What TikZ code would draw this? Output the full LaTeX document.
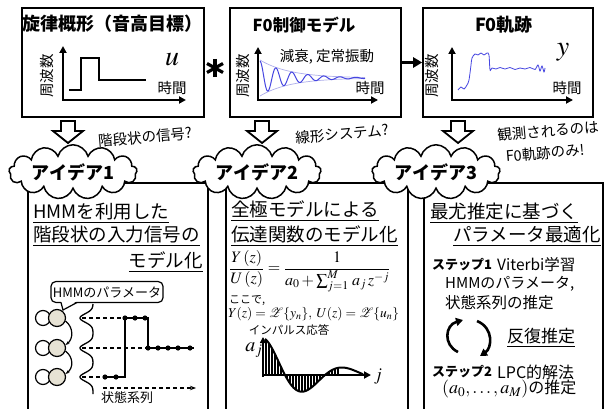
\documentclass[tikz,border=0pt]{standalone}
\usepackage{amsmath}
\usepackage{mathptmx}
\usepackage{fontspec}
\setmainfont{Noto Sans CJK JP}
\usetikzlibrary{shapes.symbols,arrows.meta}
\definecolor{wave}{RGB}{70,70,225}
\definecolor{env}{RGB}{175,175,235}
\definecolor{statefill}{RGB}{230,226,212}
\tikzset{
 box/.style={draw, line width=1.6pt, fill=white, inner sep=0pt},
 ax/.style={line width=1.8pt, -{Triangle[length=7pt,width=7pt]}},
 axlab/.style={font=\fontsize{14.5}{16}\selectfont, inner sep=0pt},
 big/.style={font=\fontsize{18.5}{20}\selectfont, anchor=west, inner sep=0pt},
 txt/.style={anchor=west, inner sep=0pt},
 note/.style={font=\fontsize{14.5}{16}\selectfont, inner sep=0pt, rotate=5},
 idea/.style={cloud, draw, fill=white, line width=1.5pt, cloud puffs=13, aspect=3.4,
   minimum width=128pt, minimum height=38pt, inner sep=0pt,
   font=\fontsize{18}{20}\selectfont\bfseries},
 dsh/.style={dash pattern=on 4pt off 3pt, line width=1.3pt},
 cyc/.style={line width=2.6pt, -{Triangle[length=7pt,width=8pt]}},
 hollow/.style={line width=1.8pt, fill=white, line join=miter},
}
\begin{document}
\begin{tikzpicture}[x=1pt,y=-1pt]
\useasboundingbox (0,0) rectangle (607,409);
\clip (0,0) rectangle (607,409);

% ---------- top boxes ----------
\node[box, minimum width=182pt, minimum height=109pt] (b1) at (113,62.5) {};
\node[box, minimum width=171pt, minimum height=109pt] (b2) at (315.5,62.5) {};
\node[box, minimum width=170pt, minimum height=109pt] (b3) at (508,62.5) {};

\node[font=\fontsize{18}{20}\selectfont\bfseries, inner sep=0pt] (t1) at (112,24) {旋律概形（音高目標）};
\node[font=\fontsize{16.5}{18}\selectfont\bfseries, inner sep=0pt] (t2) at (304,25) {F0制御モデル};
\node[font=\fontsize{18}{20}\selectfont\bfseries, inner sep=0pt] (t3) at (504,25) {F0軌跡};

% box 1 plot
\draw[ax] (63,101) -- (63,46);
\draw[ax] (62,100) -- (186,100);
\draw[line width=2pt] (69,90) -- (81,90) -- (81,58) -- (99,58) -- (99,80) -- (146,80);
\node[axlab, rotate=90] (f1) at (47,76) {周波数};
\node[axlab] (h1) at (172,88) {時間};
\node[font=\fontsize{28}{28}\selectfont, inner sep=0pt] (u) at (172,60) {$u$};

% star
\draw[line width=3.2pt] (215,59) -- (215,77);
\draw[line width=3.2pt] (207,63.5) -- (223,72.5);
\draw[line width=3.2pt] (207,72.5) -- (223,63.5);

% box 2 plot
\draw[ax] (258,101) -- (258,47);
\draw[ax] (257,100) -- (378,100);
\draw[env, line width=0.7pt] plot[domain=260:365, samples=60] (\x, {78-18*exp(-(\x-260)/30)});
\draw[env, line width=0.7pt] plot[domain=260:365, samples=60] (\x, {78+18*exp(-(\x-260)/30)});
\draw[wave, line width=1pt] plot[domain=260:365, samples=260] (\x, {78-17*exp(-(\x-260)/30)*cos(22.5*(\x-260))});
\node[axlab, rotate=90] (f2) at (243,76) {周波数};
\node[axlab] (h2) at (370,88) {時間};
\node[axlab] (d2) at (327,57) {減衰, 定常振動};

% box 3 plot
\draw[ax] (452,101) -- (452,47);
\draw[ax] (451,100) -- (573,100);
\draw[wave, line width=0.8pt] plot[smooth, tension=0.5] coordinates {
 (458,90) (461,87) (464,89) (467,85) (469,80) (471,65) (472,58) (475,54) (478,55) (481,53)
 (484,55) (487,53) (489,55) (490,70) (492,68) (496,69) (500,67.5) (505,69) (510,67.5) (515,69.5)
 (520,68) (525,69) (530,67.5) (535,69.5) (538,65) (540,71) (542,66) (544,72) (545,68)};
\node[axlab, rotate=90] (f3) at (432,76) {周波数};
\node[axlab] (h3) at (567,88) {時間};
\node[font=\fontsize{28}{28}\selectfont, inner sep=0pt] (y) at (563,52) {$y$};

% connector box2 -> box3
\draw[line width=2.2pt, -{Triangle[length=9pt,width=10pt]}] (b2.east) -- (b3.west);

% hollow down arrows
\foreach \cx in {68,262,458} {
  \draw[hollow] ({\cx-7},121) -- ({\cx+7},121) -- ({\cx+7},131) -- ({\cx+15},131)
     -- (\cx,143) -- ({\cx-15},131) -- ({\cx-7},131) -- cycle;
}
\node[note] (n1) at (145,137) {階段状の信号?};
\node[note] (n2) at (342,134) {線形システム?};
\node[note] (n3) at (548,131) {観測されるのは};
\node[note] (n4) at (545,153) {F0軌跡のみ!};

% ---------- bottom boxes ----------
\node[box, anchor=north west, minimum width=180pt, minimum height=240pt] (A) at (27,182) {};
\node[box, anchor=north west, minimum width=182pt, minimum height=240pt] (B) at (225,182) {};
\node[box, anchor=north west, minimum width=179pt, minimum height=240pt] (C) at (423,182) {};

\node[idea] (c1) at (73,172) {アイデア1};
\node[idea] (c2) at (257,172) {アイデア2};
\node[idea] (c3) at (436,172) {アイデア3};

% box A
\node[big] (a1) at (33,213) {\underline{HMMを利用した}};
\node[big] (a2) at (33,236) {\underline{階段状の入力信号の}};
\node[big, anchor=east] (a3) at (203,262) {\underline{モデル化}};

\node[draw, rounded corners=5pt, line width=1.2pt, fill=white, inner sep=2pt,
      minimum height=21pt, font=\fontsize{13}{14}\selectfont] (call) at (107,292) {HMMのパラメータ};
\fill[white] (61,301) -- (63,310) -- (77,301) -- cycle;
\draw[line width=1.2pt] (61,302.5) -- (63,310) -- (77,302.5);

\foreach \sy/\nm in {318/s1,348/s2,377/s3} {
  \draw[line width=1.2pt] (43,\sy) circle[radius=7.5pt];
  \node[circle, draw, fill=statefill, minimum size=17pt, inner sep=0pt, line width=1.2pt] (\nm) at (57,\sy) {};
}
\draw[line width=1.2pt, -{Stealth[length=4pt]}] (s1.-20) .. controls +(8,6) and +(8,-6) .. (s2.20);
\draw[line width=1.2pt, -{Stealth[length=4pt]}] (s2.-20) .. controls +(8,6) and +(8,-6) .. (s3.20);

\draw[line width=1.3pt] plot[domain=304:394, samples=150]
  ({93-13*exp(max(-9,-((\x-318)/6)^2))-13*exp(max(-9,-((\x-348)/6)^2))-13*exp(max(-9,-((\x-377)/6)^2))}, \x);

\draw[dsh] (82,318) -- (125,318);
\draw[dsh] (82,348) -- (148,348);
\draw[dsh] (82,377) -- (105,377);
\draw[line width=2pt] (105,377) -- (125,377) -- (125,318) -- (148,318) -- (148,348) -- (194,348);
\foreach \px/\py in {105/377,116/377,125/318,135/318,145/318,148/348,158/348,168/348,178/348,190/348}
  \fill (\px,\py) circle[radius=2.6pt];
\draw[dsh, -{Stealth[length=6pt]}] (103,388) -- (196,388);
\node[font=\fontsize{13}{14}\selectfont, inner sep=0pt] (ss) at (127,398) {状態系列};

% box B
\node[big] (b1t) at (231,211) {\underline{全極モデルによる}};
\node[big] (b2t) at (231,236) {\underline{伝達関数のモデル化}};
\node[txt, font=\fontsize{16}{18}\selectfont] (eq) at (229,271)
  {$\dfrac{Y\,(z)}{U\,(z)}=\dfrac{1}{a_0+\sum\nolimits_{j=1}^{M}\,a_j\,z^{-j}}$};
\node[txt, font=\fontsize{11}{12}\selectfont] (kk) at (229,300.5) {ここで,};
\node[txt, font=\fontsize{13.5}{15}\selectfont] (eq2) at (228,314)
  {$Y(z)=\mathcal{Z}\{y_n\},\;U(z)=\mathcal{Z}\{u_n\}$};
\node[font=\fontsize{11.5}{12}\selectfont, inner sep=0pt] (imp) at (289,330) {インパルス応答};
\draw[line width=1.8pt, -{Triangle[length=6pt,width=6pt]}] (263,377) -- (263,337);
\draw[line width=1.8pt, -{Triangle[length=7pt,width=7pt]}] (262,375) -- (371,375);
\foreach \xx in {266,269,...,338} {
  \pgfmathsetmacro\yy{375-36*exp(-(\xx-265)/50)*cos(4.5*(\xx-265))}
  \draw[line width=1.1pt] (\xx,375) -- (\xx,\yy);
}
\draw[line width=2pt] plot[domain=265:363, samples=120] (\x, {375-36*exp(-(\x-265)/50)*cos(4.5*(\x-265))});
\node[font=\fontsize{20}{20}\selectfont, inner sep=0pt] (aj) at (254,350) {$a_j$};
\node[font=\fontsize{18}{18}\selectfont, inner sep=0pt] (jj) at (378,377) {$j$};

% box C
\node[big] (c1t) at (430,213) {\underline{最尤推定に基づく}};
\node[big] (c2t) at (453,236) {\underline{パラメータ最適化}};
\node[txt, font=\fontsize{13}{14}\selectfont\bfseries] (st1) at (432,265) {ステップ1};
\node[txt, font=\fontsize{15.5}{16}\selectfont] (vit) at (497,265) {Viterbi学習};
\node[txt, font=\fontsize{15}{16}\selectfont] (hp) at (445,284) {HMMのパラメータ,};
\node[txt, font=\fontsize{15.5}{16}\selectfont] (sk) at (445,303) {状態系列の推定};
\draw[cyc] (458,352) .. controls (443,345) and (445,325) .. (463,320);
\draw[cyc] (477,321) .. controls (494,328) and (492,348) .. (480,356);
\node[txt, font=\fontsize{17}{18}\selectfont] (hf) at (507,338) {\underline{反復推定}};
\node[txt, font=\fontsize{13}{14}\selectfont\bfseries] (st2) at (432,372) {ステップ2};
\node[txt, font=\fontsize{16}{17}\selectfont] (lpc) at (497,372) {LPC的解法};
\node[txt, font=\fontsize{16}{17}\selectfont] (am) at (442,389) {{\fontsize{18}{18}\selectfont$(a_0,\ldots,a_M)$}の推定};
\end{tikzpicture}
\end{document}
